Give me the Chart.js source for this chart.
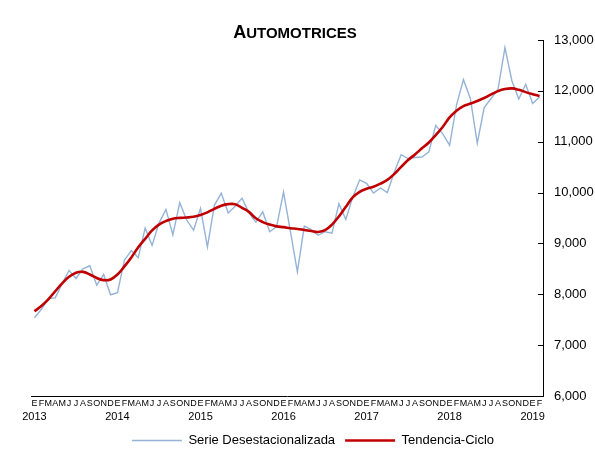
<!DOCTYPE html>
<html>
<head>
<meta charset="utf-8">
<script src="https://cdn.jsdelivr.net/npm/chart.js@4.4.1/dist/chart.umd.min.js"></script>
<style>
  html, body { margin: 0; padding: 0; background: #fff; }
  #wrap { width: 595px; height: 452px; }
</style>
</head>
<body>
<div id="wrap"><canvas id="autoChart"></canvas></div>
<script>
// meses (E = enero ... D = diciembre) y años
const monthLetters = ['E', 'F', 'M', 'A', 'M', 'J', 'J', 'A', 'S', 'O', 'N', 'D'];
const years = [2013, 2014, 2015, 2016, 2017, 2018, 2019];

// ene 2013 - feb 2019
const serieDesest = [
    7540, 7705, 7915, 7930, 8210, 8470, 8310, 8500, 8560, 8180, 8390, 7990,
    8030, 8670, 8860, 8720, 9300, 8960, 9400, 9670, 9170, 9800, 9460, 9260,
    9690, 8930, 9750, 9990, 9600, 9730, 9890, 9600, 9420, 9620, 9230, 9330,
    10010, 9230, 8440, 9340, 9270, 9160, 9230, 9200, 9780, 9470, 9910, 10250,
    10180, 9990, 10090, 10000, 10400, 10746, 10670, 10690, 10700, 10800, 11320, 11160,
    10930, 11720, 12220, 11850, 10970, 11670, 11850, 12030, 12850, 12200, 11840, 12130,
    11750, 11880
];
const tendenciaCiclo = [
    7665, 7770, 7900, 8060, 8215, 8345, 8425, 8440, 8390, 8320, 8278, 8292,
    8390, 8548, 8725, 8925, 9090, 9255, 9370, 9440, 9485, 9502, 9510, 9525,
    9560, 9610, 9680, 9740, 9772, 9770, 9700, 9620, 9495, 9420, 9370, 9335,
    9320, 9300, 9285, 9265, 9245, 9226, 9260, 9370, 9530, 9720, 9905, 10015,
    10075, 10115, 10175, 10250, 10365, 10505, 10640, 10750, 10870, 10985, 11130, 11290,
    11478, 11610, 11700, 11750, 11800, 11860, 11930, 11995, 12035, 12048, 12020, 11975,
    11935, 11898
];
const yTicks = [6000, 7000, 8000, 9000, 10000, 11000, 12000, 13000];

const labels = [];
const yearOf = [];
for (let i = 0; i < serieDesest.length; i++) {
    labels.push(monthLetters[i % 12]);
    yearOf.push(i % 12 === 0 ? String(years[Math.floor(i / 12)]) : '');
}

const FONT = "'Liberation Sans', Arial, sans-serif";

// titulo en versalitas
const titlePlugin = {
    id: 'smallCapsTitle',
    afterDraw(chart) {
        const ctx = chart.ctx;
        ctx.save();
        ctx.fillStyle = '#000';
        ctx.textBaseline = 'alphabetic';
        ctx.font = 'bold 18px ' + FONT;
        const w1 = ctx.measureText('A').width;
        ctx.font = 'bold 15px ' + FONT;
        const w2 = ctx.measureText('UTOMOTRICES').width;
        const x0 = 295 - (w1 + w2) / 2;
        ctx.font = 'bold 18px ' + FONT;
        ctx.fillText('A', x0, 38);
        ctx.font = 'bold 15px ' + FONT;
        ctx.fillText('UTOMOTRICES', x0 + w1, 38);
        ctx.restore();
    }
};

// marcas del eje derecho hacia dentro
const innerTicks = {
    id: 'innerTicks',
    afterDraw(chart) {
        const y = chart.scales.y;
        const ctx = chart.ctx;
        ctx.save();
        ctx.strokeStyle = '#000';
        ctx.lineWidth = 1;
        yTicks.forEach(v => {
            const py = Math.round(y.getPixelForValue(v)) + 0.5;
            ctx.beginPath();
            ctx.moveTo(y.left - 5, py);
            ctx.lineTo(y.left, py);
            ctx.stroke();
        });
        ctx.restore();
    }
};

const ctx = document.getElementById('autoChart').getContext('2d');
new Chart(ctx, {
    type: 'line',
    data: {
        labels: labels,
        datasets: [{
            label: 'Serie Desestacionalizada',
            data: serieDesest,
            borderColor: '#95B3D7',
            backgroundColor: '#95B3D7',
            borderWidth: 1.4,
            pointRadius: 0,
            tension: 0,
            order: 2
        }, {
            label: 'Tendencia-Ciclo',
            data: tendenciaCiclo,
            borderColor: '#C00000',
            backgroundColor: '#C00000',
            borderWidth: 2.6,
            pointRadius: 0,
            tension: 0.4,
            order: 1
        }]
    },
    options: {
        responsive: true,
        maintainAspectRatio: false,
        animation: false,
        layout: {
            padding: { left: 31, top: 40, right: 0, bottom: -5 }
        },
        plugins: {
            title: { display: false },
            tooltip: { enabled: false },
            legend: {
                position: 'bottom',
                labels: {
                    color: '#000',
                    font: { family: FONT, size: 13 },
                    usePointStyle: true,
                    pointStyleWidth: 50,
                    pointStyle: 'line',
                    padding: 10,
                    sort: (a, b) => a.datasetIndex - b.datasetIndex
                }
            }
        },
        scales: {
            x: {
                type: 'category',
                offset: true,
                weight: 0,
                grid: { drawOnChartArea: false, drawTicks: false },
                border: { display: true, color: '#000', width: 1 },
                ticks: {
                    autoSkip: false,
                    maxRotation: 0,
                    minRotation: 0,
                    padding: 2,
                    color: '#000',
                    font: { family: FONT, size: 9 }
                }
            },
            x2: {
                type: 'category',
                position: 'bottom',
                labels: yearOf,
                offset: true,
                weight: 1,
                grid: { display: false, drawTicks: false },
                border: { display: false },
                ticks: {
                    autoSkip: false,
                    maxRotation: 0,
                    minRotation: 0,
                    padding: 0,
                    color: '#000',
                    font: { family: FONT, size: 11 }
                }
            },
            y: {
                type: 'linear',
                position: 'right',
                min: 6000,
                max: 13000,
                afterFit(scale) { scale.width = 52; },
                grid: { drawOnChartArea: false, drawTicks: false },
                border: { display: true, color: '#000', width: 1 },
                ticks: {
                    stepSize: 1000,
                    padding: 11,
                    color: '#000',
                    font: { family: FONT, size: 13 },
                    callback: v => v.toLocaleString('en-US')
                }
            }
        }
    },
    plugins: [titlePlugin, innerTicks]
});
</script>
</body>
</html>
